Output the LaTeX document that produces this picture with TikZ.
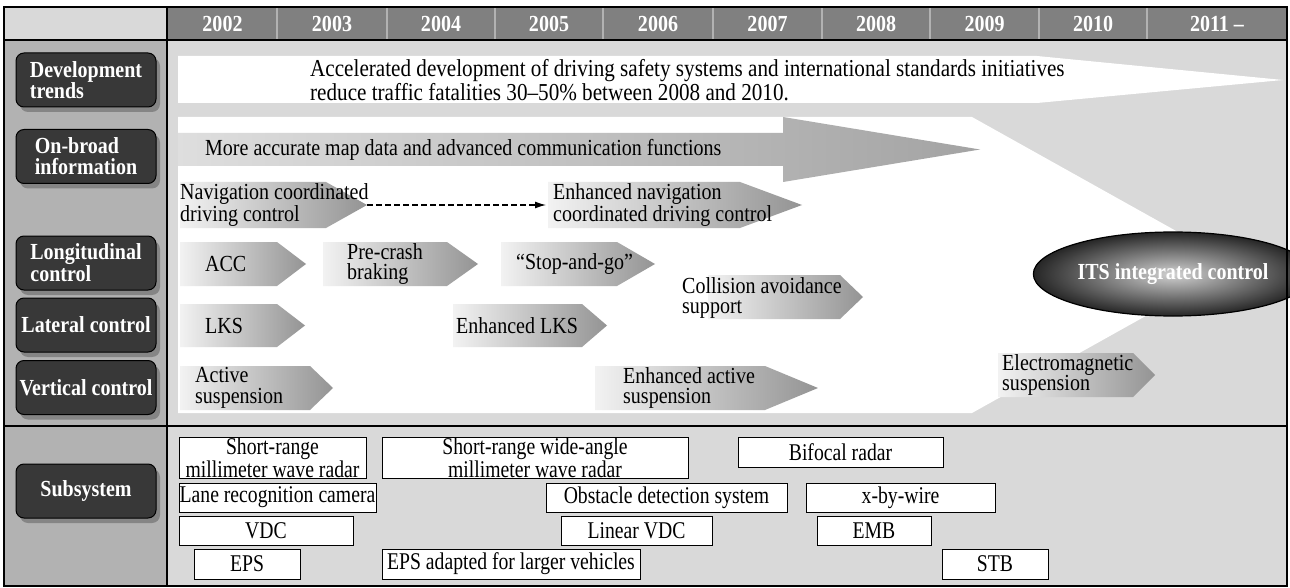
\documentclass[tikz,border=0pt]{standalone}
\usepackage{fontspec}
\setmainfont{Liberation Serif}[FakeStretch=0.87]
\newfontfamily\subfont{Liberation Serif}[FakeStretch=0.82]
\usetikzlibrary{shapes.geometric,arrows.meta,shadows}
\newcommand\garrow[5]{%
  \shade[left color=black!5, right color=black!42]
    (#1,#2) -- (#4,#2) -- (#5,{(#2+#3)/2}) -- (#4,#3) -- (#1,#3) -- cycle;}
\begin{document}
\begin{tikzpicture}[x=1pt,y=-1pt,
  lblbox/.style={rounded corners=8pt, draw=black, line width=1pt, fill=black!78,
    minimum width=140pt, minimum height=54pt, inner sep=0pt, align=left,
    text=white, font=\fontsize{23}{21}\selectfont\bfseries,
    drop shadow={shadow xshift=4pt, shadow yshift=-5pt, fill=black!48, opacity=1}},
  yr/.style={text=white, font=\fontsize{23}{20}\selectfont\bfseries, inner sep=0pt},
  atxt/.style={font=\fontsize{23}{20.5}\selectfont, align=left, inner sep=0pt, anchor=west},
  sub/.style={draw=black, line width=0.9pt, fill=white, inner sep=0pt, align=center,
    font=\subfont\fontsize{24}{18.5}\selectfont},
]
\useasboundingbox (0,0) rectangle (1290,588);
% backgrounds
\fill[black!15] (4,7) rectangle (167,40);
\fill[black!50] (167,7) rectangle (1287,40);
\fill[black!30] (4,40) rectangle (167,586);
\fill[black!15] (167,40) rectangle (1287,586);
\foreach \x in {277,387,495,603,713,822,930,1039,1147}
  \draw[black!30, line width=1.5pt] (\x,8) -- (\x,39);
% years
\foreach \c/\t in {222.5/2002,332/2003,441/2004,549/2005,658/2006,767.5/2007,876/2008,984.5/2009,1093/2010,1217/{2011 –}}
  \node[yr] at (\c,23.5) {\t};
% development trends arrow
\fill[white] (178,56) -- (1037,56) -- (1283,80) -- (1037,103) -- (178,103) -- cycle;
% big white region
\fill[white] (178,117) -- (972,117) -- (1237,265) -- (972,413) -- (178,413) -- cycle;
% on-broad arrow
\shade[left color=black!13, right color=black!36]
  (178,133) -- (783,133) -- (783,117) -- (980,149.5) -- (783,182) -- (783,166) -- (178,166) -- cycle;
% gradient arrows
\garrow{180}{182}{228}{326}{367}
\garrow{548}{182}{228}{740}{802}
\garrow{180}{242}{286}{277}{306}
\garrow{323}{242}{286}{447}{478}
\garrow{501}{242}{286}{617}{655}
\garrow{708}{275}{319}{840}{863}
\garrow{180}{304}{347}{277}{305}
\garrow{453}{304}{347}{582}{607}
\garrow{180}{366}{410}{310}{333}
\garrow{595}{366}{410}{765}{818}
\garrow{998}{353}{397}{1133}{1155}
% texts
\node[atxt, font=\fontsize{24.3}{19}\selectfont] (devtxt) at (310,80) {Accelerated development of driving safety systems and international standards initiatives\\reduce traffic fatalities 30–50\% between 2008 and 2010.};
\node[atxt] (maptxt) at (205,149.5) {More accurate map data and advanced communication functions};
\node[atxt] (nav) at (180,205) {Navigation coordinated\\driving control};
\node[atxt] (enhnav) at (553,205) {Enhanced navigation\\coordinated driving control};
\node[atxt] (acc) at (205,264) {ACC};
\node[atxt] (pcb) at (347,264) {Pre-crash\\braking};
\node[atxt] (sag) at (516,264) {“Stop-and-go”};
\node[atxt] (cas) at (682,298) {Collision avoidance\\support};
\node[atxt] (lks) at (205,325.5) {LKS};
\node[atxt] (elks) at (456,325.5) {Enhanced LKS};
\node[atxt] (as) at (195,388) {Active\\suspension};
\node[atxt] (eas) at (623,388) {Enhanced active\\suspension};
\node[atxt] (ems) at (1002,375) {Electromagnetic\\suspension};
% dashed connector
\coordinate (navtip) at (367,205);
\coordinate (enhnavin) at (546,205);
\draw[dash pattern=on 6pt off 3pt, line width=1.2pt, -{Latex[length=11pt,width=7pt]}] (navtip) -- (enhnavin);
% ITS ellipse
\node[ellipse, draw=black, line width=1.2pt, minimum width=226pt, minimum height=84pt,
  shade, inner color=black!18, outer color=black!85, text=white,
  font=\fontsize{23}{20}\selectfont\bfseries] (its) at (1173,274) {ITS integrated control};
% label boxes
\node[lblbox] (ldev) at (86,80) {Development\\trends};
\node[lblbox] (lonb) at (86,156.5) {On-broad\\information};
\node[lblbox] (llon) at (86,263) {Longitudinal\\control};
\node[lblbox] (llat) at (86,325) {Lateral control};
\node[lblbox] (lver) at (86,387.5) {Vertical control};
\node[lblbox] (lsub) at (86,491) {Subsystem};
% subsystem boxes
\node[sub, minimum width=187pt, minimum height=41pt] (srr) at (272.5,457.5) {Short-range\\millimeter wave radar};
\node[sub, minimum width=306pt, minimum height=41pt] (srw) at (535,457.5) {Short-range wide-angle\\millimeter wave radar};
\node[sub, minimum width=205pt, minimum height=30pt] (bif) at (840.5,452) {Bifocal radar};
\node[sub, minimum width=197pt, minimum height=29pt] (lane) at (277.5,497.5) {Lane recognition camera};
\node[sub, minimum width=241pt, minimum height=29pt] (obs) at (666.5,497.5) {Obstacle detection system};
\node[sub, minimum width=189pt, minimum height=29pt] (xbw) at (900.5,497.5) {x-by-wire};
\node[sub, minimum width=174pt, minimum height=29pt] (vdc) at (266,530.5) {VDC};
\node[sub, minimum width=151pt, minimum height=29pt] (lvdc) at (636.5,530.5) {Linear VDC};
\node[sub, minimum width=114pt, minimum height=29pt] (emb) at (874,530.5) {EMB};
\node[sub, minimum width=106pt, minimum height=30pt] (eps) at (247,564) {EPS};
\node[sub, minimum width=258pt, minimum height=30pt] (epsl) at (511,564) {EPS adapted for larger vehicles};
\node[sub, minimum width=106pt, minimum height=30pt] (stb) at (995,564) {STB};
% frame lines
\draw[line width=2.5pt] (4,40) -- (1287,40);
\draw[line width=2.5pt] (4,426) -- (1287,426);
\draw[line width=1.8pt] (167,7) -- (167,586);
\draw[line width=2pt] (4,7) rectangle (1287,586);
\end{tikzpicture}
\end{document}
